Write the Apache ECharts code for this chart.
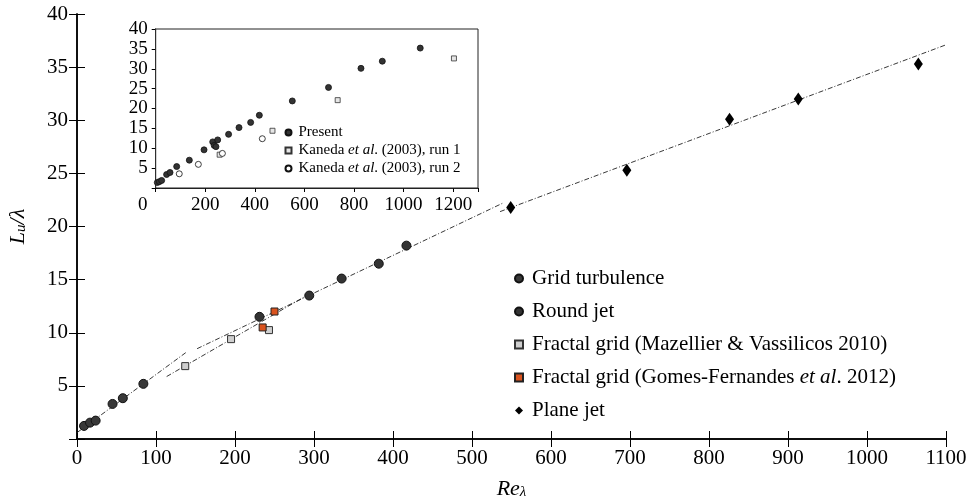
<!DOCTYPE html>
<html>
<head>
<meta charset="utf-8">
<script src="https://cdn.jsdelivr.net/npm/echarts@6.0.0/dist/echarts.min.js"></script>
<style>
  html, body { margin: 0; padding: 0; background: #fff; }
  #chart { width: 971px; height: 504px; }
</style>
</head>
<body>
<div id="chart"></div>
<script>
// main plot data (Re_lambda, L_u/lambda)
const gridTurbX = [8.9, 16.5, 23.6, 45, 58, 84];
const gridTurbY = [1.23, 1.54, 1.73, 3.3, 3.84, 5.19];
const roundJetX = [231, 294, 335, 382, 417];
const roundJetY = [11.5, 13.5, 15.1, 16.5, 18.2];
const mazellierX = [137, 195, 243];
const mazellierY = [6.86, 9.4, 10.25];
const gomesX = [235, 250];
const gomesY = [10.5, 12.0];
const planeJetX = [549, 696, 826, 913, 1065];
const planeJetY = [21.8, 25.3, 30.1, 32.0, 35.3];

// dash-dot fit segments
const fitA = [[0, 0.6], [139, 8.2]];
const fitB = [[152, 8.5], [539, 22.2]];
const fitC = [[113.5, 5.88], [300, 13.9]];
const fitD = [[535.5, 21.4], [1100, 37.1]];

// inset data
const presentX = [6.5, 14.7, 24, 44, 57.7, 84.6, 135.6, 195, 230, 236, 243, 250, 294, 336, 383, 418, 551, 697, 828, 914, 1067];
const presentY = [1.37, 1.6, 1.9, 3.4, 3.9, 5.4, 7.0, 9.6, 11.6, 10.7, 10.4, 12.1, 13.5, 15.2, 16.5, 18.3, 21.9, 25.3, 30.1, 31.9, 35.2];
const run1X = [258, 471, 734, 1203];
const run1Y = [8.38, 14.4, 22.1, 32.6];
const run2X = [95, 172, 269, 430];
const run2Y = [3.57, 5.95, 8.7, 12.4];

const mainXTicks = { min: 0, max: 1100, interval: 100 };
const mainYTicks = { min: 0, max: 40, interval: 5 };
const insetXTicks = { min: 0, max: 1300, interval: 200 };
const insetYTicks = { min: 0, max: 40, interval: 5 };

const FONT = 'Liberation Serif';
const zip = (xs, ys) => xs.map((x, i) => [x, ys[i]]);

const chart = echarts.init(document.getElementById('chart'));

const axisLine = { lineStyle: { color: '#000', width: 1.5 } };
const tickIn = (len) => ({ inside: true, length: len, lineStyle: { color: '#000', width: 1 } });

function fitLine(data) {
    return {
        type: 'line', xAxisIndex: 0, yAxisIndex: 0, data: data,
        showSymbol: false, silent: true, z: 1,
        lineStyle: { color: '#222', width: 0.9, type: [5, 2, 1, 2] }
    };
}

const nameStyle = {
    color: '#000', fontFamily: FONT, fontSize: 22, fontStyle: 'italic',
    rich: {
        i: { fontFamily: FONT, fontSize: 22, fontStyle: 'italic', color: '#000', verticalAlign: 'bottom', lineHeight: 24 },
        s: { fontFamily: FONT, fontSize: 15, fontStyle: 'italic', color: '#000', verticalAlign: 'bottom', lineHeight: 14 }
    }
};

chart.setOption({
    animation: false,
    backgroundColor: '#fff',
    grid: [
        { left: 77, top: 14, width: 869, height: 425, outerBoundsMode: 'none', containLabel: false },
        { left: 155.7, top: 29, width: 322.3, height: 159, outerBoundsMode: 'none', containLabel: false,
          show: true, backgroundColor: '#fff', borderColor: '#222', borderWidth: 1, z: 5 }
    ],
    xAxis: [
        {
            type: 'value', gridIndex: 0, position: 'bottom', ...mainXTicks,
            axisLine, axisTick: tickIn(8), splitLine: { show: false },
            axisLabel: { color: '#000', fontFamily: FONT, fontSize: 21, margin: 9, formatter: v => String(v) },
            name: '{i|Re}{s|λ}', nameLocation: 'middle', nameGap: 37,
            nameTextStyle: nameStyle
        },
        {
            type: 'value', gridIndex: 0, position: 'top', ...mainXTicks,
            axisLine, axisTick: tickIn(8), axisLabel: { show: false }, splitLine: { show: false }
        },
        {
            type: 'value', gridIndex: 1, position: 'bottom', ...insetXTicks,
            axisLine: { lineStyle: { color: '#222', width: 1 } }, axisTick: tickIn(4), splitLine: { show: false },
            axisLabel: {
                color: '#000', fontFamily: FONT, fontSize: 19, margin: 8, showMaxLabel: false,
                formatter: v => v === 0 ? '{z|0}' : String(v),
                rich: { z: { fontFamily: FONT, fontSize: 19, color: '#000', padding: [0, 26, 0, 0] } }
            }
        },
        {
            type: 'value', gridIndex: 1, position: 'top', ...insetXTicks,
            axisLine: { lineStyle: { color: '#222', width: 1 } }, axisTick: tickIn(4),
            axisLabel: { show: false }, splitLine: { show: false }
        }
    ],
    yAxis: [
        {
            type: 'value', gridIndex: 0, position: 'left', ...mainYTicks,
            axisLine, axisTick: tickIn(8), splitLine: { show: false },
            axisLabel: { color: '#000', fontFamily: FONT, fontSize: 21, margin: 9, formatter: v => v === 0 ? '' : String(v) },
            name: '{i|L}{s|u}{i|/λ}', nameLocation: 'middle', nameGap: 48,
            nameTextStyle: nameStyle
        },
        {
            type: 'value', gridIndex: 0, position: 'right', ...mainYTicks,
            axisLine, axisTick: tickIn(8), axisLabel: { show: false }, splitLine: { show: false }
        },
        {
            type: 'value', gridIndex: 1, position: 'left', ...insetYTicks,
            axisLine: { lineStyle: { color: '#222', width: 1 } }, axisTick: tickIn(4), splitLine: { show: false },
            axisLabel: { color: '#000', fontFamily: FONT, fontSize: 19, margin: 8, formatter: v => v === 0 ? '' : String(v) }
        },
        {
            type: 'value', gridIndex: 1, position: 'right', ...insetYTicks,
            axisLine: { lineStyle: { color: '#222', width: 1 } }, axisTick: tickIn(4),
            axisLabel: { show: false }, splitLine: { show: false }
        }
    ],
    legend: [
        {
            orient: 'vertical', left: 514, top: 268, padding: 0, itemWidth: 8, itemHeight: 8, itemGap: 12,
            data: [
                { name: 'Grid turbulence', icon: 'circle' },
                { name: 'Round jet', icon: 'circle' },
                { name: 'Fractal grid (Mazellier & Vassilicos 2010)', icon: 'rect' },
                { name: 'Fractal grid (Gomes-Fernandes et al. 2012)', icon: 'rect' },
                { name: 'Plane jet', icon: 'diamond' }
            ],
            formatter: n => n.replace('et al.', '{i|et al}.'),
            textStyle: {
                color: '#000', fontFamily: FONT, fontSize: 21, lineHeight: 21, padding: [0, 0, 0, 4],
                rich: { i: { fontFamily: FONT, fontSize: 21, fontStyle: 'italic', color: '#000' } }
            }
        },
        {
            orient: 'vertical', left: 284.5, top: 125, padding: 0, itemWidth: 6, itemHeight: 6, itemGap: 3, z: 10,
            data: [
                { name: 'Present', icon: 'circle' },
                { name: 'Kaneda et al. (2003), run 1', icon: 'rect' },
                { name: 'Kaneda et al. (2003), run 2', icon: 'circle' }
            ],
            formatter: n => n.replace('et al.', '{i|et al}.'),
            textStyle: {
                color: '#000', fontFamily: FONT, fontSize: 15, lineHeight: 15, padding: [0, 0, 0, 2],
                rich: { i: { fontFamily: FONT, fontSize: 15, fontStyle: 'italic', color: '#000' } }
            }
        }
    ],
    series: [
        fitLine(fitA), fitLine(fitB), fitLine(fitC), fitLine(fitD),
        {
            name: 'Grid turbulence', type: 'scatter', xAxisIndex: 0, yAxisIndex: 0, z: 3,
            data: zip(gridTurbX, gridTurbY), symbol: 'circle', symbolSize: 9,
            itemStyle: { color: '#383838', borderColor: '#111', borderWidth: 1, opacity: 1 }
        },
        {
            name: 'Round jet', type: 'scatter', xAxisIndex: 0, yAxisIndex: 0, z: 3,
            data: zip(roundJetX, roundJetY), symbol: 'circle', symbolSize: 9,
            itemStyle: { color: '#333', borderColor: '#111', borderWidth: 1, opacity: 1 }
        },
        {
            name: 'Fractal grid (Mazellier & Vassilicos 2010)', type: 'scatter', xAxisIndex: 0, yAxisIndex: 0, z: 3,
            data: zip(mazellierX, mazellierY), symbol: 'rect', symbolSize: 7,
            itemStyle: { color: '#cfcfcf', borderColor: '#333', borderWidth: 1, opacity: 1 }
        },
        {
            name: 'Fractal grid (Gomes-Fernandes et al. 2012)', type: 'scatter', xAxisIndex: 0, yAxisIndex: 0, z: 3,
            data: zip(gomesX, gomesY), symbol: 'rect', symbolSize: 7,
            itemStyle: { color: '#d9531e', borderColor: '#222', borderWidth: 1, opacity: 1 }
        },
        {
            name: 'Plane jet', type: 'scatter', xAxisIndex: 0, yAxisIndex: 0, z: 3,
            data: zip(planeJetX, planeJetY), symbol: 'diamond', symbolSize: [9, 13],
            itemStyle: { color: '#000', opacity: 1 }
        },
        {
            name: 'Present', type: 'scatter', xAxisIndex: 2, yAxisIndex: 2, z: 6,
            data: zip(presentX, presentY), symbol: 'circle', symbolSize: 6,
            itemStyle: { color: '#333', borderColor: '#111', borderWidth: 0.8, opacity: 1 }
        },
        {
            name: 'Kaneda et al. (2003), run 1', type: 'scatter', xAxisIndex: 2, yAxisIndex: 2, z: 6,
            data: zip(run1X, run1Y), symbol: 'rect', symbolSize: 5,
            itemStyle: { color: '#e6e6e6', borderColor: '#333', borderWidth: 0.8, opacity: 1 }
        },
        {
            name: 'Kaneda et al. (2003), run 2', type: 'scatter', xAxisIndex: 2, yAxisIndex: 2, z: 6,
            data: zip(run2X, run2Y), symbol: 'circle', symbolSize: 6,
            itemStyle: { color: '#fff', borderColor: '#111', borderWidth: 0.8, opacity: 1 }
        }
    ]
});

window.addEventListener('resize', () => chart.resize());
</script>
</body>
</html>
